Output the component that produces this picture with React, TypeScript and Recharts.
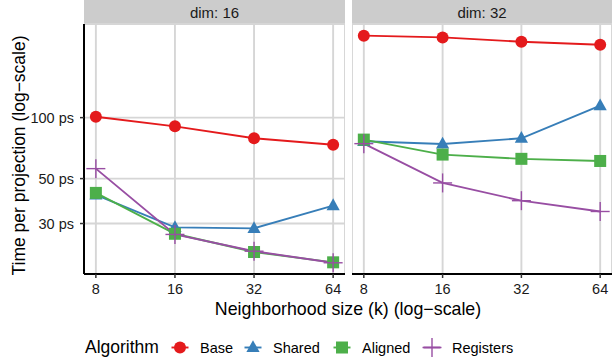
import React from 'react';
import { LineChart, Line, XAxis, YAxis, CartesianGrid } from 'recharts';

// neighborhood sizes (k) and time per projection in picoseconds
const kValues = [8, 16, 32, 64];

const dim16Base = [101, 90.6, 79.1, 73.5];
const dim16Shared = [41.5, 28.7, 28.4, 36.8];
const dim16Aligned = [42.5, 26.7, 21.7, 19.3];
const dim16Registers = [56.0, 26.5, 21.9, 19.2];

const dim32Base = [254, 249, 237, 229];
const dim32Shared = [76.4, 74.1, 79.1, 114.6];
const dim32Aligned = [77.9, 65.7, 62.6, 61.1];
const dim32Registers = [74.4, 47.6, 38.9, 34.4];

const yTicks = [30, 50, 100];
const panels = ['dim: 16', 'dim: 32'];

const FONT = '"Liberation Sans", Arial, Helvetica, sans-serif';
const COLORS = { base: '#E41A1C', shared: '#377EB8', aligned: '#4DAF4A', registers: '#984EA3' };

// log scales with ggplot-style 5% expansion on each side
const X_DOMAIN = [8 / Math.pow(2, 0.15), 64 * Math.pow(2, 0.15)];
const Y_DOMAIN = [16.9, 290];

const buildRows = (base: number[], shared: number[], aligned: number[], registers: number[]) =>
  kValues.map((k, i) => ({ k, base: base[i], shared: shared[i], aligned: aligned[i], registers: registers[i] }));

const dim16Data = buildRows(dim16Base, dim16Shared, dim16Aligned, dim16Registers);
const dim32Data = buildRows(dim32Base, dim32Shared, dim32Aligned, dim32Registers);

const CircleShape = ({ cx, cy, color }: any) => <circle cx={cx} cy={cy} r={6} fill={color} />;
const TriangleShape = ({ cx, cy, color }: any) => (
  <polygon points={`${cx},${cy - 7.2} ${cx + 6.6},${cy + 4.6} ${cx - 6.6},${cy + 4.6}`} fill={color} />
);
const SquareShape = ({ cx, cy, color }: any) => (
  <rect x={cx - 6} y={cy - 6} width={12} height={12} fill={color} />
);
const PlusShape = ({ cx, cy, color }: any) => (
  <g stroke={color} strokeWidth={1.4}>
    <line x1={cx - 9.5} y1={cy} x2={cx + 9.5} y2={cy} />
    <line x1={cx} y1={cy - 9.5} x2={cx} y2={cy + 9.5} />
  </g>
);

const series = [
  { key: 'base', label: 'Base', Shape: CircleShape },
  { key: 'shared', label: 'Shared', Shape: TriangleShape },
  { key: 'aligned', label: 'Aligned', Shape: SquareShape },
  { key: 'registers', label: 'Registers', Shape: PlusShape },
];

const tickStyle = { fontSize: 14.5, fill: '#1a1a1a', fontFamily: FONT };
const axisLineStyle = { stroke: '#000', strokeWidth: 2 };
const tickLineStyle = { stroke: '#333', strokeWidth: 1.5 };

const Panel = ({ data, left, width, title, showY }: any) => (
  <div style={{ position: 'absolute', left, top: 0, width, height: 300 }}>
    <div
      style={{
        position: 'absolute',
        left: showY ? 84 : 0,
        top: 0,
        width: showY ? width - 84 : width,
        height: 24,
        background: '#cccccc',
        display: 'flex',
        alignItems: 'center',
        justifyContent: 'center',
        fontFamily: FONT,
        fontSize: 15,
        color: '#1a1a1a',
      }}
    >
      {title}
    </div>
    <LineChart width={width} height={300} data={data} margin={{ top: 24, right: 0, bottom: 0, left: 0 }}>
      <CartesianGrid stroke="#d6d6d6" strokeWidth={1.9} />
      <XAxis
        dataKey="k"
        type="number"
        scale="log"
        domain={X_DOMAIN}
        ticks={kValues}
        interval={0}
        allowDataOverflow
        height={26}
        tickSize={4}
        tickMargin={6}
        tick={tickStyle}
        axisLine={axisLineStyle}
        tickLine={tickLineStyle}
      />
      <YAxis
        type="number"
        scale="log"
        domain={Y_DOMAIN}
        ticks={yTicks}
        interval={0}
        allowDataOverflow
        width={showY ? 84 : 0}
        tickSize={4}
        tickMargin={6}
        tick={showY ? tickStyle : false}
        axisLine={showY ? axisLineStyle : false}
        tickLine={showY ? tickLineStyle : false}
        tickFormatter={(v: number) => `${v} ps`}
      />
      {series.map(({ key, Shape }) => (
        <Line
          key={key}
          dataKey={key}
          stroke={COLORS[key as keyof typeof COLORS]}
          strokeWidth={1.9}
          isAnimationActive={false}
          activeDot={false}
          dot={(p: any) => (
            <Shape key={`${key}-${p.index}`} cx={p.cx} cy={p.cy} color={COLORS[key as keyof typeof COLORS]} />
          )}
        />
      ))}
    </LineChart>
  </div>
);

const legendItems = [
  { x: 180, text: 200 },
  { x: 253, text: 273 },
  { x: 342, text: 362 },
  { x: 432, text: 452 },
];

const App = () => (
  <div style={{ position: 'absolute', left: 0, top: 0, width: 612, height: 362, background: '#fff', overflow: 'hidden' }}>
    <Panel data={dim16Data} left={0} width={345} title={panels[0]} showY />
    <Panel data={dim32Data} left={352} width={260} title={panels[1]} showY={false} />
    <svg width={612} height={362} style={{ position: 'absolute', left: 0, top: 0, pointerEvents: 'none' }}>
      <text
        transform="translate(25,155.5) rotate(-90)"
        textAnchor="middle"
        fontFamily={FONT}
        fontSize={17.5}
        fill="#000"
      >
        Time per projection (log−scale)
      </text>
      <text x={348} y={315} textAnchor="middle" fontFamily={FONT} fontSize={17.8} fill="#000">
        Neighborhood size (k) (log−scale)
      </text>
      <text x={85} y={353} fontFamily={FONT} fontSize={17.5} fill="#000">
        Algorithm
      </text>
      {series.map(({ key, label, Shape }, i) => {
        const color = COLORS[key as keyof typeof COLORS];
        const item = legendItems[i];
        return (
          <g key={key}>
            <line x1={item.x - 8.5} y1={347.5} x2={item.x + 8.5} y2={347.5} stroke={color} strokeWidth={1.9} />
            <Shape cx={item.x} cy={347.5} color={color} />
            <text x={item.text} y={353} fontFamily={FONT} fontSize={14.5} fill="#000">
              {label}
            </text>
          </g>
        );
      })}
    </svg>
  </div>
);

export default App;
